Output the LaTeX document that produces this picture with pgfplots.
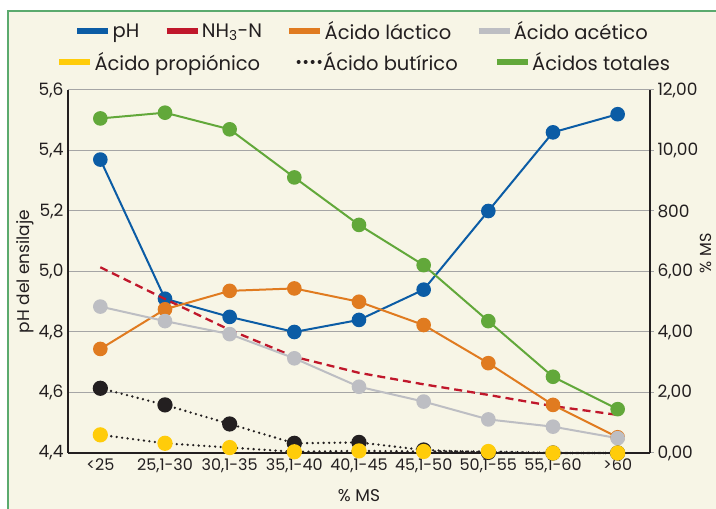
\documentclass[border=0pt]{standalone}
\usepackage{fontspec}
\setmainfont{Poppins}
\usepackage{pgfplots}
\pgfplotsset{compat=1.18}
\definecolor{cBlue}{HTML}{0B5CA5}
\definecolor{cRed}{HTML}{C0172B}
\definecolor{cOrange}{HTML}{E07B20}
\definecolor{cGrey}{HTML}{BDBEC3}
\definecolor{cYellow}{HTML}{FFCC0A}
\definecolor{cBlack}{HTML}{231F20}
\definecolor{cGreen}{HTML}{62A83A}
\definecolor{cBg}{HTML}{F7F5E6}
\definecolor{cFrame}{HTML}{5BAA6E}
\definecolor{cGrid}{HTML}{A5A5A5}
\pgfplotsset{
  mk/.style={mark=*, mark size=6.3bp, mark options={solid, fill=#1, draw=#1}, color=#1, line width=2bp},
  legrow/.style={hide axis, scale only axis, width=10bp, height=10bp,
    xmin=0, xmax=1, ymin=0, ymax=1,
    legend style={at={(0.5,0.5)}, anchor=center, draw=none, fill=none,
      font=\fontsize{19.5bp}{21bp}\selectfont, text=cBlack, legend columns=-1,
      /tikz/every even column/.append style={column sep=#1}, inner sep=0pt,
      nodes={inner xsep=1.5bp}},
    legend image code/.code={\draw[##1, line width=5.5bp] (0bp,0bp) -- (31bp,0bp);},
  },
}
\begin{document}
\begin{tikzpicture}
\useasboundingbox (0,0) rectangle (716bp,509bp);
\fill[white] (0,0) rectangle (716bp,509bp);
\filldraw[fill=cBg, draw=cFrame, line width=1.5bp] (8bp,-20bp) rectangle (740bp,498bp);

% left axis: pH
\begin{axis}[
  at={(68bp,56bp)}, anchor=south west, scale only axis,
  width=582bp, height=363bp,
  xmin=-0.5, xmax=8.5, ymin=4.4, ymax=5.6,
  axis y line*=left, axis x line*=bottom,
  axis line style={line width=2bp, color=cBlack, -},
  ymajorgrids, grid style={line width=1bp, color=cGrid},
  major tick length=0pt,
  ytick={4.4,4.6,4.8,5.0,5.2,5.4,5.6},
  yticklabels={{4,4},{4,6},{4,8},{5,0},{5,2},{5,4},{5,6}},
  xtick={0,1,2,3,4,5,6,7,8},
  xticklabels={{<25},{25,1-30},{30,1-35},{35,1-40},{40,1-45},{45,1-50},{50,1-55},{55,1-60},{>60}},
  ticklabel style={font=\fontsize{17bp}{19bp}\selectfont, text=cBlack},
  xticklabel style={font=\fontsize{16bp}{18bp}\selectfont, yshift=-2bp},
  yticklabel style={xshift=-1bp},
  xlabel={\% MS},
  ylabel={pH del ensilaje},
  label style={font=\fontsize{17bp}{19bp}\selectfont, text=cBlack},
  xlabel style={at={(axis description cs:0.5,-0.118)}, anchor=center},
  ylabel style={at={(axis description cs:-0.074,0.5)}, anchor=center},
  clip=false,
]
\addplot[mk=cBlue] coordinates {(0,5.37) (1,4.91) (2,4.85) (3,4.80) (4,4.84) (5,4.94) (6,5.20) (7,5.46) (8,5.52)};
\end{axis}

% right axis: % MS
\begin{axis}[
  at={(68bp,56bp)}, anchor=south west, scale only axis,
  width=582bp, height=363bp,
  xmin=-0.5, xmax=8.5, ymin=0, ymax=12,
  axis y line*=right, axis x line=none,
  axis line style={line width=2bp, color=cBlack, -},
  tick align=outside, major tick length=4bp,
  ytick style={line width=1bp, color=cGrid},
  ytick={0,2,4,6,8,10,12},
  yticklabels={{0,00},{2,00},{4,00},{6,00},800,{10,00},{12,00}},
  ticklabel style={font=\fontsize{17bp}{19bp}\selectfont, text=cBlack},
  ylabel={\% MS},
  ylabel style={font=\fontsize{16bp}{18bp}\selectfont, text=cBlack, at={(axis description cs:1.096,0.55)}, anchor=center, rotate=0, inner sep=0pt},
  clip=false,
]
\addplot[color=cRed, line width=2.3bp, dash pattern=on 8bp off 5bp] coordinates {(0,6.14) (1,5.09) (2,4.07) (3,3.18) (4,2.65) (5,2.27) (6,1.92) (7,1.55) (8,1.26)};
\addplot[mk=cOrange] coordinates {(0,3.44) (1,4.75) (2,5.36) (3,5.44) (4,5.00) (5,4.23) (6,2.97) (7,1.59) (8,0.52)};
\addplot[mk=cGrey] coordinates {(0,4.84) (1,4.36) (2,3.93) (3,3.13) (4,2.19) (5,1.70) (6,1.11) (7,0.87) (8,0.49)};
\addplot[mk=cBlack, line width=2.6bp, dash pattern=on 0bp off 5.5bp, line cap=round] coordinates {(0,2.14) (1,1.59) (2,0.96) (3,0.32) (4,0.35) (5,0.10) (6,0.02) (7,0.0) (8,0.0)};
\addplot[mk=cYellow, line width=2.6bp, dash pattern=on 0bp off 5.5bp, line cap=round, draw=cBlack] coordinates {(0,0.60) (1,0.32) (2,0.18) (3,0.04) (4,0.07) (5,0.05) (6,0.05) (7,0.0) (8,0.0)};
\addplot[mk=cGreen] coordinates {(0,11.06) (1,11.25) (2,10.70) (3,9.11) (4,7.54) (5,6.21) (6,4.36) (7,2.52) (8,1.45)};
\end{axis}

% legend row 1
\begin{axis}[legrow=23bp, at={(362bp,478bp)}, anchor=center]
\addlegendimage{cBlue}\addlegendentry{pH}
\addlegendimage{cRed}\addlegendentry{NH\textsubscript{3}-N}
\addlegendimage{cOrange}\addlegendentry{Ácido láctico}
\addlegendimage{cGrey}\addlegendentry{Ácido acético}
\end{axis}

% legend row 2
\begin{axis}[legrow=35bp, at={(364bp,447bp)}, anchor=center]
\addlegendimage{cYellow}\addlegendentry{Ácido propiónico}
\addlegendimage{legend image code/.code={\draw[cBlack, line width=4bp, dash pattern=on 0bp off 7bp, line cap=round] (10bp,0bp) -- (31bp,0bp);}}\addlegendentry{Ácido butírico}
\addlegendimage{cGreen}\addlegendentry{Ácidos totales}
\end{axis}
\end{tikzpicture}
\end{document}
